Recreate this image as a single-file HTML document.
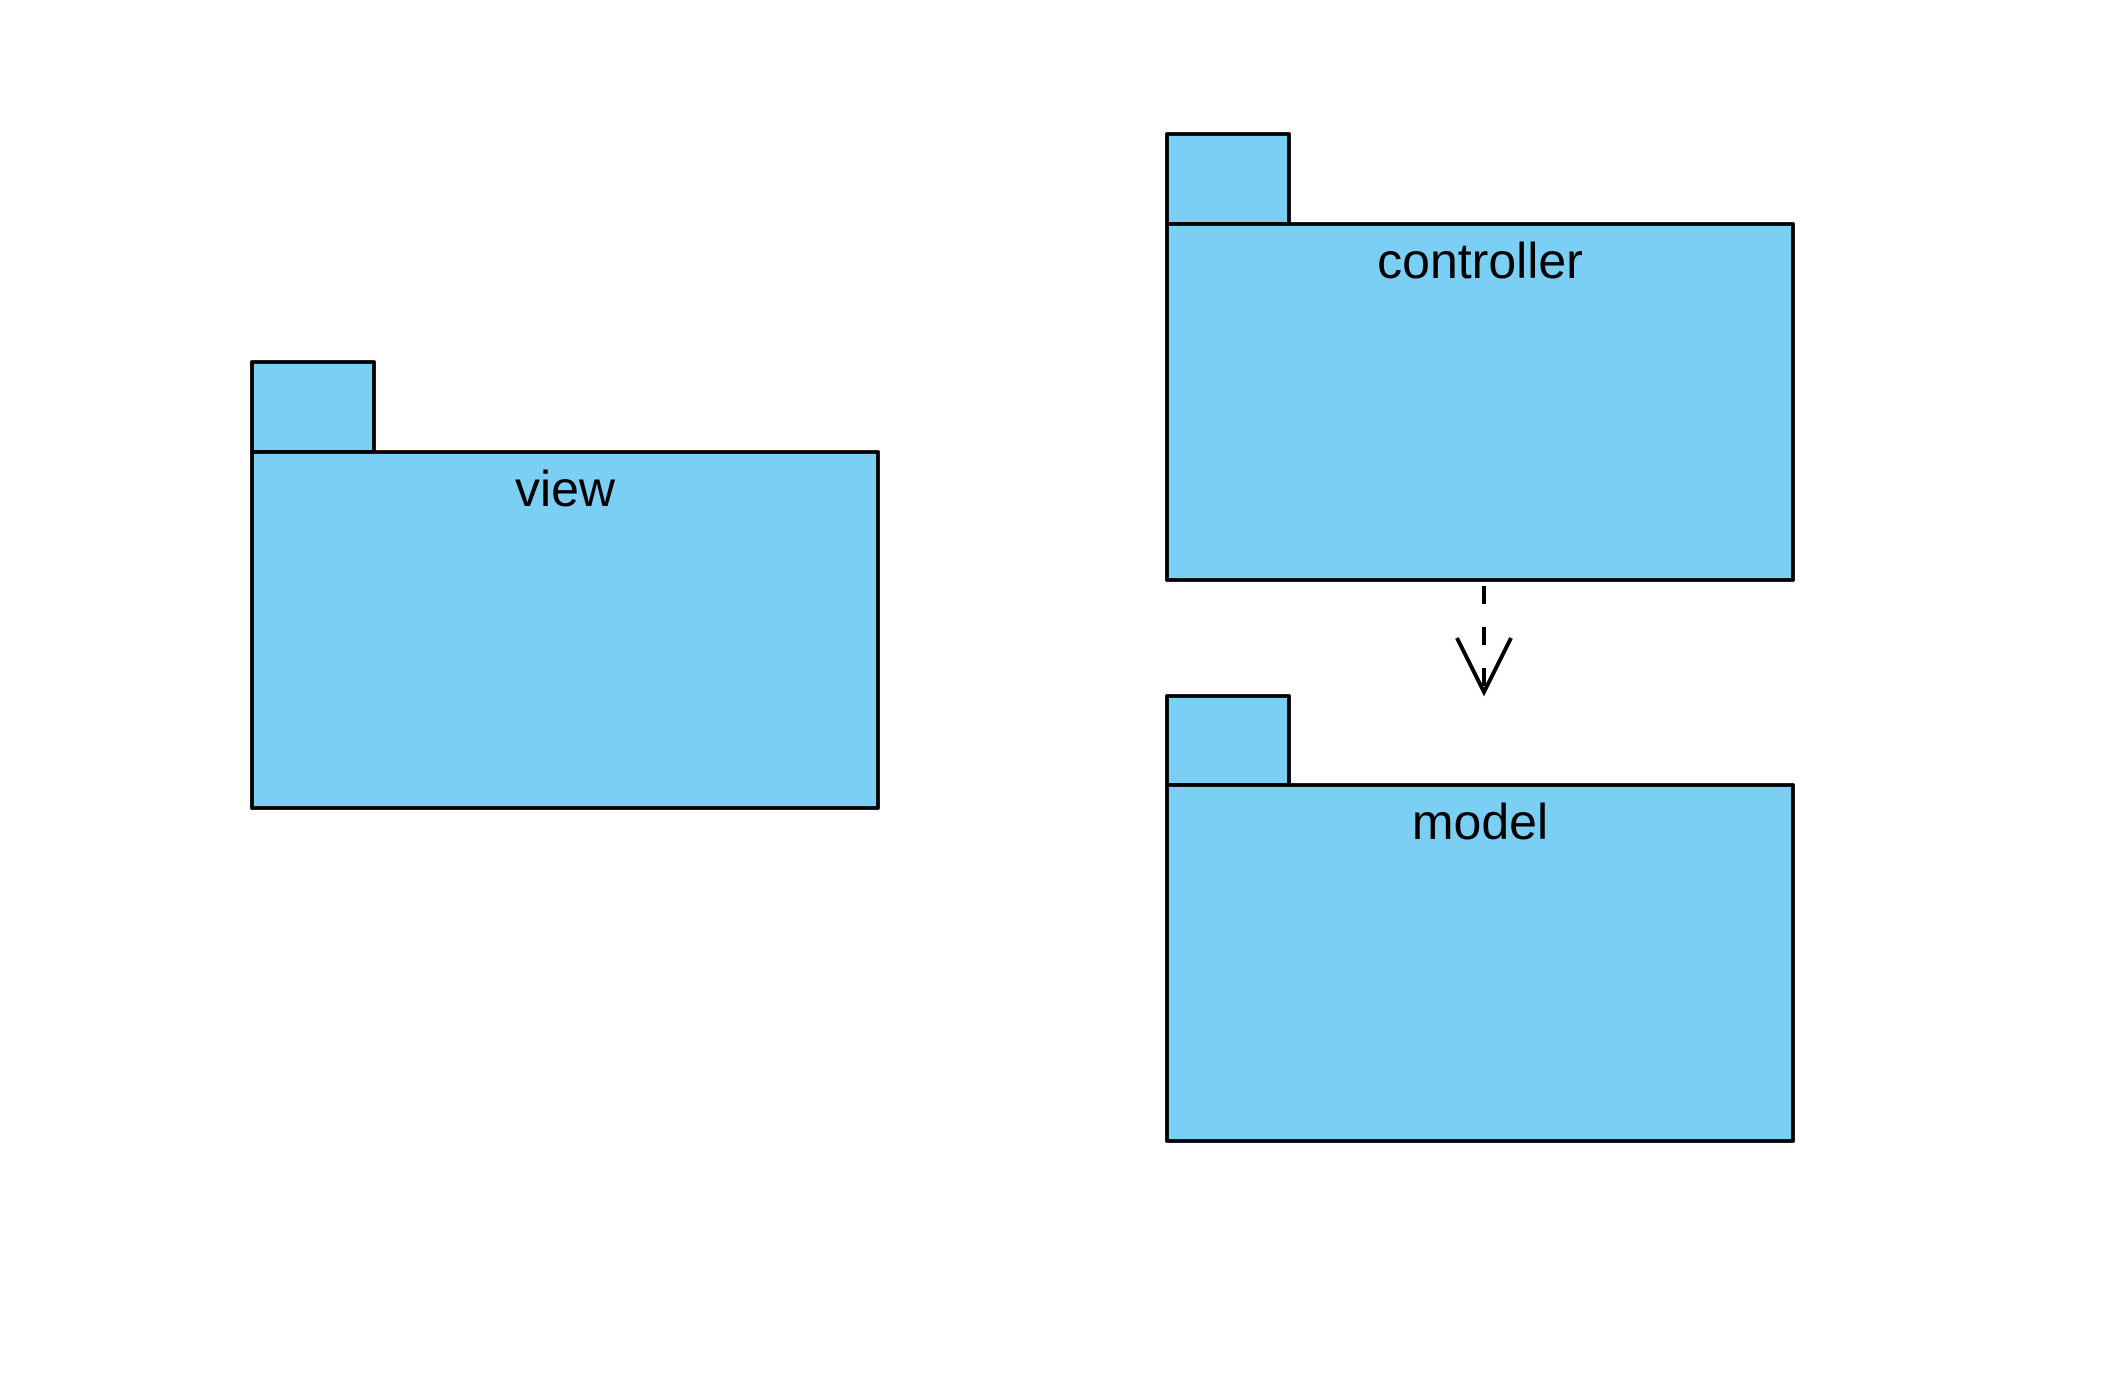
<!DOCTYPE html>
<html>
<head>
<meta charset="utf-8">
<style>
html,body{margin:0;padding:0;background:#fff;}
svg{display:block;}
text{font-family:"Liberation Sans",Arial,sans-serif;font-size:50px;fill:#000;}
</style>
</head>
<body>
<svg id="diagram" width="2113" height="1379" viewBox="0 0 2113 1379" xmlns="http://www.w3.org/2000/svg">
<rect x="0" y="0" width="2113" height="1379" fill="#fff"/>
</svg>
<script>
const packageNames = ["view", "controller", "model"];
const packageX = [252, 1167, 1167];
const packageTabTop = [362, 134, 696];
const packageBodyTop = [452, 224, 785];
const packageBodyBottom = [808, 580, 1141];
const packageRight = [878, 1793, 1793];
const tabWidth = 122;

const NS = "http://www.w3.org/2000/svg";
const svg = document.getElementById("diagram");
function mk(tag, attrs) {
  const e = document.createElementNS(NS, tag);
  for (const k in attrs) e.setAttribute(k, attrs[k]);
  return e;
}
for (let i = 0; i < packageNames.length; i++) {
  const g = mk("g", {});
  
  
  const x = packageX[i], r = packageRight[i];
  const tab = mk("rect", {x: x, y: packageTabTop[i], width: tabWidth, height: packageBodyTop[i] - packageTabTop[i], fill: "#7bcef4", stroke: "#000", "stroke-width": 3.8, "stroke-linejoin": "round"});
  
  
  const body = mk("rect", {x: x, y: packageBodyTop[i], width: r - x, height: packageBodyBottom[i] - packageBodyTop[i], fill: "#7bcef4", stroke: "#000", "stroke-width": 3.8, "stroke-linejoin": "round"});
  
  
  const t = mk("text", {x: (x + r) / 2, y: packageBodyTop[i] + 54, "text-anchor": "middle"});
  t.textContent = packageNames[i];
  
  
  g.appendChild(tab); g.appendChild(body); g.appendChild(t);
  svg.appendChild(g);
}
// dependency controller -> model
const from = 1, to = 2;
const ax = 1484;
const y1 = packageBodyBottom[from] + 6;
const y2 = packageTabTop[to] - 4;
const dep = mk("g", {});


const line = mk("line", {x1: ax, y1: y1, x2: ax, y2: y2, stroke: "#000", "stroke-width": 4, "stroke-dasharray": "18 23"});


const head = mk("polyline", {points: (ax - 27) + "," + (y2 - 54) + " " + ax + "," + y2 + " " + (ax + 27) + "," + (y2 - 54), fill: "none", stroke: "#000", "stroke-width": 4});


dep.appendChild(line); dep.appendChild(head);
svg.appendChild(dep);
</script>
</body>
</html>
